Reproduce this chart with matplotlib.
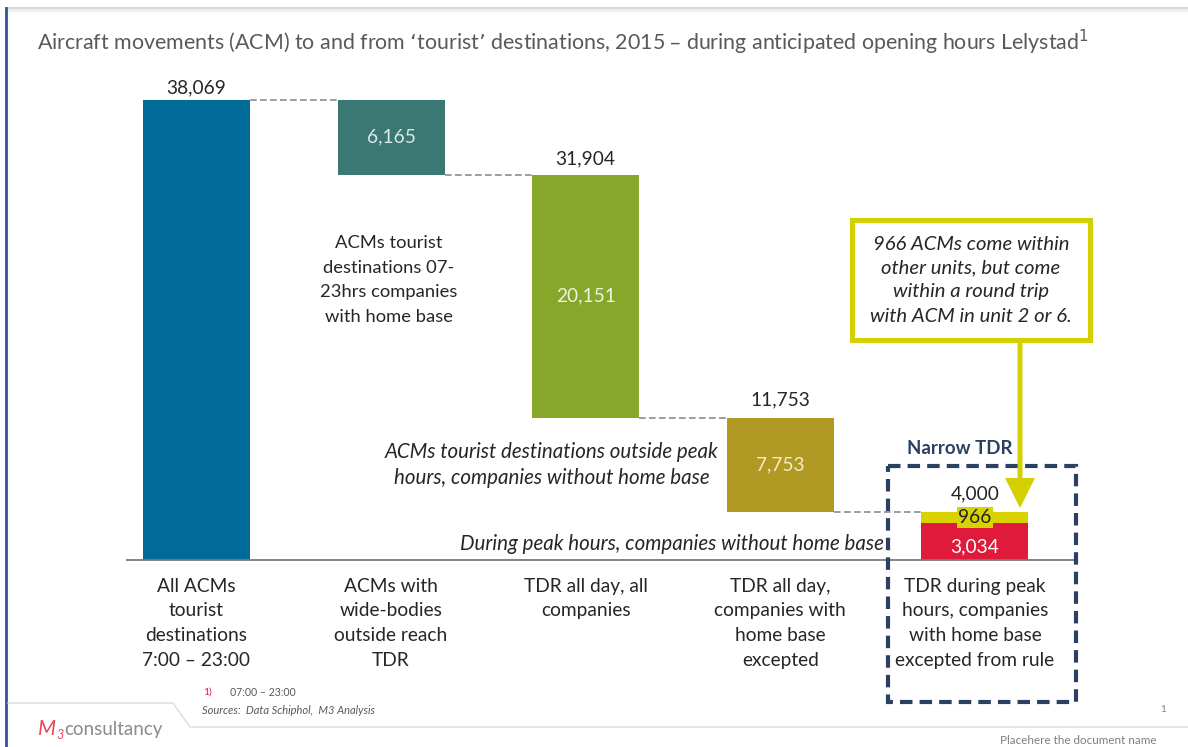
import matplotlib
matplotlib.use("Agg")
import matplotlib.pyplot as plt
from matplotlib.patches import Rectangle, FancyArrow

plt.rcParams['font.family'] = ['Lato', 'DejaVu Sans']

# data
categories = ['All ACMs\ntourist\ndestinations\n7:00 \u2013 23:00',
              'ACMs with\nwide-bodies\noutside reach\nTDR',
              'TDR all day, all\ncompanies',
              'TDR all day,\ncompanies with\nhome base\nexcepted',
              'TDR during peak\nhours, companies\nwith home base\nexcepted from rule']
start_total = 38069
decrements = [6165, 20151, 7753]
final_split = [3034, 966]          # red part, yellow part
dec_colors = ['#3b7773', '#87a72b', '#b09a24']
dec_text_colors = ['#dbe9e8', '#eef3df', '#f3ecc8']

# running totals after each step
levels = [start_total]
for d in decrements:
    levels.append(levels[-1] - d)

W, H = 1188, 747
fig = plt.figure(figsize=(W / 100, H / 100), dpi=100)

# main chart axes
px = 194.6
left_px = 196.5 - 0.5 * px
ax = fig.add_axes([left_px / W, 1 - 560 / H, 5 * px / W, 500.2 / H])
ax.set_xlim(-0.5, 4.5)
ax.set_ylim(0, 41400)
ax.axis('off')
bw = 0.55
fs_val = 13.8

ax.bar(0, start_total, width=bw, color='#006b98')
for i, d in enumerate(decrements):
    ax.bar(i + 1, d, bottom=levels[i + 1], width=bw, color=dec_colors[i])
    ax.text(i + 1, levels[i + 1] + d / 2, f'{d:,}', ha='center', va='center',
            fontsize=fs_val, color=dec_text_colors[i])
ax.bar(4, final_split[0], width=bw, color='#e01a3a')
ax.bar(4, final_split[1], bottom=final_split[0], width=bw, color='#d8d300')
ax.text(4, final_split[0] / 2 - 400, f'{final_split[0]:,}', ha='center', va='center',
        fontsize=fs_val, color='white')
ax.text(4, final_split[0] + final_split[1] / 2, f'{final_split[1]:,}', ha='center',
        va='center', fontsize=fs_val, color='#222222',
        bbox=dict(boxstyle='square,pad=0.08', fc='#d8d300', ec='none'))

# totals above bars
tops = [start_total, levels[1], levels[2], levels[3]]
xs = [0, 2, 3, 4]
offs = [3, 5, 7, 7]
for x, t, o in zip(xs, tops, offs):
    ax.annotate(f'{t:,}', (x, t), xytext=(0, o), textcoords='offset points',
                ha='center', va='bottom', fontsize=fs_val, color='#262626')

# connectors
conn = [levels[0], levels[1], levels[2], levels[3]]
for i, y in enumerate(conn):
    ax.plot([i + bw / 2, i + 1 - bw / 2], [y, y], color='#8c8c8c', lw=1.2,
            linestyle=(0, (4, 2)))

# baseline
ax.plot([-0.357, 4.514], [0, 0], color='#7a7a7a', lw=1.3, clip_on=False)

# category labels
for i, c in enumerate(categories):
    ax.text(i, -1450, c, ha='center', va='top', fontsize=13.8, color='#262626',
            linespacing=1.56)

# overlay in pixel coordinates for annotations and slide decoration
ov = fig.add_axes([0, 0, 1, 1], zorder=5)
ov.set_xlim(0, W)
ov.set_ylim(H, 0)
ov.axis('off')
ov.patch.set_alpha(0)

# slide frame
ov.plot([6, W], [8, 8], color='#cfcfcf', lw=1.2)
ov.plot([6, W], [10, 10], color='#eeeeee', lw=2)
ov.plot([6, 6], [8, H], color='#2f5597', lw=2)
ov.plot([8, 173, 190, W], [703, 703, 727, 727], color='#dcdcdc', lw=1)

ov.text(37, 42, 'Aircraft movements (ACM) to and from \u2018tourist\u2019 destinations, 2015 \u2013 '
        'during anticipated opening hours Lelystad$^1$', ha='left', va='center',
        fontsize=15.4, color='#595959')

ov.text(389, 280, 'ACMs tourist\ndestinations 07-\n23hrs companies\nwith home base',
        ha='center', va='center', fontsize=13.2, color='#262626', linespacing=1.66)
ov.text(552, 465, 'ACMs tourist destinations outside peak\nhours, companies without home base',
        ha='center', va='center', fontsize=14.8, color='#262626', style='italic',
        linespacing=1.4)
ov.text(884, 544, 'During peak hours, companies without home base', ha='right',
        va='center', fontsize=14.8, color='#262626', style='italic')

# narrow TDR box
ov.add_patch(Rectangle((888, 466), 188, 236, fill=False, ec='#2b4162', lw=3,
                       linestyle=(0, (3, 1.7)), zorder=1))
ov.text(960, 449, 'Narrow TDR', ha='center', va='center', fontsize=13.4,
        fontweight='bold', color='#2b4162')

# callout
ov.add_patch(Rectangle((852, 220), 238, 120, fc='white', ec='#d4d000', lw=3.6))
ov.text(971, 280, '966 ACMs come within\nother units, but come\nwithin a round trip\n'
        'with ACM in unit 2 or 6.', ha='center', va='center', fontsize=14.6,
        style='italic', color='#262626', linespacing=1.5)
ov.add_patch(FancyArrow(1020, 342, 0, 166, width=5, head_width=30, head_length=30,
                        length_includes_head=True, fc='#d4d000', ec='none'))

# footer
ov.text(203, 692, '1)', ha='left', va='center', fontsize=7.5, color='#e0193a')
ov.text(230, 692, '07:00 \u2013 23:00', ha='left', va='center', fontsize=7.6,
        color='#595959')
ov.text(202, 711, 'Sources:  Data Schiphol,  M3 Analysis', ha='left', va='center',
        fontsize=8, style='italic', color='#595959')
ov.text(38, 729, 'M', ha='left', va='center', fontsize=15, style='italic',
        color='#e8475a')
ov.text(56, 735, '3', ha='left', va='center', fontsize=9, style='italic',
        color='#e8475a')
ov.text(64, 729, 'consultancy', ha='left', va='center', fontsize=13.5,
        color='#8a8a8a')
ov.text(1163, 709, '1', ha='center', va='center', fontsize=7, color='#7f7f7f')
ov.text(1000, 740, 'Placehere the document name', ha='left', va='center',
        fontsize=8.4, color='#7f7f7f')

fig.savefig('out.png', dpi=100)
